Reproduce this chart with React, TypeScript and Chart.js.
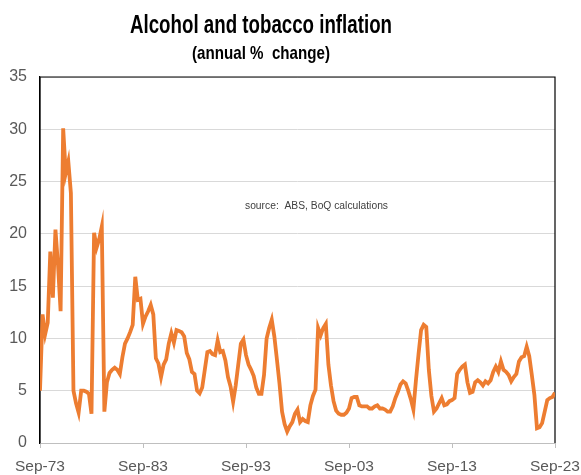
import React, { useEffect, useRef } from "react";
import { Chart, registerables } from "chart.js";

Chart.register(...registerables);

// Quarterly annual % change, Sep-73 .. Sep-23 (201 quarters)
const q1973to1983 = [
  5.0, 12.3, 10.4, 11.5, 18.3, 13.9, 20.4, 17.0, 12.6, 30.1,
  25.8, 26.9, 23.9, 5.0, 3.8, 2.9, 5.0, 5.0, 4.9, 4.7,
  2.8, 20.1, 18.7, 19.5, 20.7, 3.0, 5.8, 6.7, 7.0, 7.2,
  7.0, 6.6, 8.2, 9.5, 10.0, 10.6, 11.3, 15.9, 13.7, 13.8,
];
const q1983to1993 = [
  11.4, 12.1, 12.6, 13.2, 12.3, 8.1, 7.6, 6.3, 7.5, 8.0,
  9.5, 10.5, 9.6, 10.8, 10.7, 10.6, 10.2, 8.6, 8.0, 6.8,
  6.6, 5.0, 4.75, 5.3, 7.0, 8.7, 8.8, 8.5, 8.4, 9.8,
  8.7, 8.8, 7.9, 6.3, 5.4, 3.95, 5.5, 7.5, 9.5, 9.9,
];
const q1993to2003 = [
  8.4, 7.5, 7.0, 6.4, 5.3, 4.7, 4.7, 6.5, 10.0, 11.0,
  11.8, 10.2, 8.0, 5.7, 3.0, 1.8, 1.1, 1.6, 2.0, 2.8,
  3.2, 2.0, 2.3, 2.1, 2.0, 3.6, 4.5, 5.1, 11.0, 10.3,
  11.0, 11.4, 7.5, 5.5, 4.0, 3.1, 2.8, 2.7, 2.7, 2.9,
];
const q2003to2013 = [
  3.3, 4.3, 4.4, 4.4, 3.6, 3.5, 3.5, 3.5, 3.3, 3.3,
  3.5, 3.6, 3.3, 3.3, 3.2, 3.0, 3.0, 3.5, 4.3, 4.9,
  5.6, 5.9, 5.7, 5.0, 4.2, 3.2, 6.0, 8.5, 10.8, 11.3,
  11.1, 7.0, 4.5, 3.0, 3.3, 3.8, 4.3, 3.6, 3.7, 4.0,
];
const q2013to2023 = [
  4.1, 4.3, 6.6, 7.0, 7.3, 7.5, 5.8, 4.8, 4.9, 5.8,
  6.0, 5.8, 5.5, 5.9, 5.7, 6.0, 6.8, 7.3, 6.8, 7.8,
  7.0, 6.8, 6.5, 5.9, 6.3, 6.6, 7.8, 8.2, 8.3, 9.2,
  8.3, 6.5, 4.6, 1.4, 1.5, 1.9, 3.0, 4.1, 4.3, 4.4,
  4.8,
];
const inflation = [
  ...q1973to1983,
  ...q1983to1993,
  ...q1993to2003,
  ...q2003to2013,
  ...q2013to2023,
];

const xTickLabels = ["Sep-73", "Sep-83", "Sep-93", "Sep-03", "Sep-13", "Sep-23"];
const yTicks = [0, 5, 10, 15, 20, 25, 30, 35];

const titleText = "Alcohol and tobacco inflation";
const subtitleText = "(annual %  change)";
const sourceText = "source:  ABS, BoQ calculations";

const FONT = "'Liberation Sans', Arial, sans-serif";
const NARROW = "'Liberation Sans Narrow', 'Liberation Sans', Arial, sans-serif";

function fitText(
  ctx: CanvasRenderingContext2D,
  text: string,
  cx: number,
  baseline: number,
  font: string,
  width: number,
  color: string
) {
  ctx.save();
  ctx.font = font;
  const m = ctx.measureText(text).width || 1;
  ctx.translate(cx, baseline);
  ctx.scale(width / m, 1);
  ctx.textAlign = "center";
  ctx.textBaseline = "alphabetic";
  ctx.fillStyle = color;
  ctx.fillText(text, 0, 0);
  ctx.restore();
}

const decorPlugin = {
  id: "decor",
  beforeDatasetsDraw(chart: any) {
    const { ctx, chartArea } = chart;
    const { left, right, top, bottom } = chartArea;
    ctx.save();
    ctx.strokeStyle = "#000";
    ctx.lineWidth = 1.2;
    ctx.beginPath();
    ctx.moveTo(left, bottom);
    ctx.lineTo(left, top);
    ctx.lineTo(right, top);
    ctx.lineTo(right, bottom);
    ctx.stroke();
    ctx.restore();
  },
  afterDraw(chart: any) {
    const { ctx } = chart;
    fitText(ctx, titleText, 253, 25, `bold 26px ${NARROW}`, 262, "#000");
    fitText(ctx, subtitleText, 253, 51, `bold 19px ${NARROW}`, 138, "#000");
    fitText(ctx, sourceText, 308.5, 201, `10px ${FONT}`, 143, "#404040");
  },
};

export default function App() {
  const ref = useRef<HTMLCanvasElement | null>(null);

  useEffect(() => {
    document.documentElement.style.overflow = "hidden";
    document.body.style.margin = "0";
    const canvas = ref.current;
    if (!canvas) return;
    const chart = new Chart(canvas, {
      type: "line",
      data: {
        datasets: [
          {
            data: inflation.map((v, i) => ({ x: i, y: v })),
            borderColor: "#ED7D31",
            borderWidth: 3.8,
            pointRadius: 0,
            tension: 0,
            fill: false,
          },
        ],
      },
      options: {
        animation: false,
        responsive: true,
        maintainAspectRatio: false,
        layout: { padding: { top: 69, right: 26, left: 0, bottom: 0 } },
        plugins: {
          legend: { display: false },
          tooltip: { enabled: false },
          title: { display: false },
        },
        scales: {
          x: {
            type: "linear",
            min: 0,
            max: inflation.length - 1,
            ticks: {
              stepSize: 40,
              autoSkip: false,
              maxRotation: 0,
              padding: 9,
              color: "#595959",
              font: { family: FONT, size: 15.5 },
              callback: (v: any) => {
                const idx = Number(v) / 40;
                return Number.isInteger(idx) ? xTickLabels[idx] ?? "" : "";
              },
            },
            grid: {
              drawOnChartArea: false,
              drawTicks: true,
              tickLength: 5,
              color: "#bfbfbf",
            },
            border: { color: "#bfbfbf", width: 1 },
            afterFit: (s: any) => {
              s.paddingLeft = 0;
              s.paddingRight = 0;
              s.height = 32;
            },
          },
          y: {
            min: yTicks[0],
            max: yTicks[yTicks.length - 1],
            ticks: {
              stepSize: 5,
              padding: 13,
              color: "#595959",
              font: { family: FONT, size: 16 },
            },
            grid: { color: "#d9d9d9", drawTicks: false, lineWidth: 1 },
            border: { color: "#000", width: 1.2 },
            afterFit: (s: any) => {
              s.width = 32;
              s.paddingTop = 0;
              s.paddingBottom = 0;
            },
          },
        },
      },
      plugins: [decorPlugin],
    } as any);
    return () => chart.destroy();
  }, []);

  return (
    <div style={{ width: 581, height: 475, paddingLeft: 8, paddingTop: 8, boxSizing: "border-box" }}>
      <div style={{ width: 573, height: 467, position: "relative" }}>
        <canvas ref={ref} />
      </div>
    </div>
  );
}
